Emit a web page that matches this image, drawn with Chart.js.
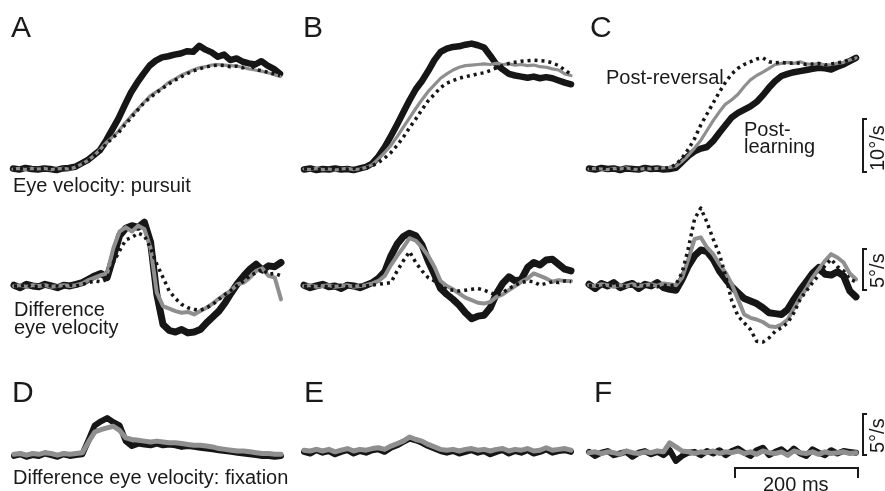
<!DOCTYPE html>
<html lang="en">
<head>
<meta charset="UTF-8">
<title>Eye velocity traces</title>
<script src="https://cdn.jsdelivr.net/npm/chart.js@4.4.1/dist/chart.umd.min.js"></script>
<style>
  body {
    margin: 0;
    width: 885px;
    height: 491px;
    position: relative;
    overflow: hidden;
    background: #fff;
    color: #1a1a1a;
    font-family: "Liberation Sans", Arial, sans-serif;
  }
  canvas { position: absolute; }
  .lbl { position: absolute; white-space: nowrap; line-height: 1; font-size: 20px; }
  .big { font-size: 30px; }
  .vbar { position: absolute; border: 2px solid #1a1a1a; border-right: none; width: 5px; box-sizing: border-box; }
  .hbar { position: absolute; border: 2px solid #1a1a1a; border-bottom: none; height: 11px; box-sizing: border-box; }
  .vtxt { position: absolute; white-space: nowrap; line-height: 1; font-size: 20px; transform: rotate(-90deg); transform-origin: left top; }
</style>
</head>
<body>
<div id="figure"></div>

<div class="lbl big" style="left:11px;top:12px">A</div>
<div class="lbl big" style="left:303px;top:12px">B</div>
<div class="lbl big" style="left:590px;top:12px">C</div>
<div class="lbl big" style="left:12px;top:377px">D</div>
<div class="lbl big" style="left:304px;top:377px">E</div>
<div class="lbl big" style="left:594px;top:377px">F</div>

<div class="lbl" style="left:13px;top:175px">Eye velocity: pursuit</div>
<div class="lbl" style="left:14px;top:299px">Difference</div>
<div class="lbl" style="left:14px;top:317px">eye velocity</div>
<div class="lbl" style="left:13px;top:467px">Difference eye velocity: fixation</div>
<div class="lbl" style="left:606px;top:67px">Post-reversal</div>
<div class="lbl" style="left:744px;top:119px">Post-</div>
<div class="lbl" style="left:744px;top:136px">learning</div>

<div class="vbar" style="left:862px;top:118px;height:55px"></div>
<div class="vtxt" style="left:867px;top:171px">10°/s</div>
<div class="vbar" style="left:862px;top:248px;height:43px"></div>
<div class="vtxt" style="left:867px;top:288px">5°/s</div>
<div class="vbar" style="left:862px;top:413px;height:43px"></div>
<div class="vtxt" style="left:867px;top:453px">5°/s</div>
<div class="hbar" style="left:734px;top:467px;width:125px"></div>
<div class="lbl" style="left:763px;top:474px">200 ms</div>

<script>
// time after target motion onset, ms
const times = [0, 10, 20, 30, 40, 50, 60, 70, 80, 90, 100, 110, 120, 130, 140, 150, 160, 170, 180, 190, 200, 210,
  220, 230, 240, 250, 260, 270, 280, 290, 300, 310, 320, 330, 340, 350, 360, 370, 380, 390, 400, 410, 420, 430];

// top row: eye velocity during pursuit (deg/s)
const aTopBlack = [0.1, -0.1, 0.2, 0.0, -0.1, 0.1, 0.0, -0.2, 0.1, 0.2,
  0.4, 1.0, 1.6, 2.5, 3.4, 5.2, 7.2, 9.2, 11.6, 13.9, 15.7, 17.3, 18.8, 19.7, 20.3, 20.5, 20.8, 21.0, 21.4, 21.3,
  22.4, 21.7, 21.2, 20.4, 20.8, 19.8, 20.1, 19.5, 19.2, 19.0, 19.6, 18.8, 18.2, 17.3];
const aTopGray = [0.0, 0.1, -0.1, 0.1, 0.0, 0.1, -0.1, 0.0, 0.1, 0.0,
  0.3, 0.9, 1.5, 2.4, 3.5,
  4.8, 5.8, 6.9, 8.3, 9.6, 10.8, 12.0, 13.2, 14.0, 14.7, 15.7, 16.3, 17.0, 17.5, 18.0, 18.4, 18.6, 18.9, 19.0, 18.9,
  18.8, 18.7, 18.5, 18.2, 18.0, 17.8, 17.5, 17.2, 16.8];
const aTopDot = [0.0, 0.0, 0.1, -0.1, 0.0, 0.1, 0.0, -0.1, 0.0, 0.1,
  0.3, 0.8, 1.4, 2.3, 3.3,
  4.5, 5.6, 6.6, 8.0, 9.3, 10.6, 11.9, 12.9, 13.8, 14.6, 15.4, 16.1, 16.7, 17.3, 17.8, 18.2, 18.5, 18.8, 18.9, 18.8,
  18.6, 18.7, 18.4, 19.3, 18.1, 17.9, 17.6, 17.3, 17.0];

const bTopBlack = [-0.1, 0.1, -0.2, 0.0, -0.1, 0.1, -0.1, 0.0, -0.2,
  0.1, 0.4, 1.0, 2.3, 4.0, 6.0, 8.1, 10.3, 12.5, 14.5, 16.0, 17.8, 19.8, 21.3, 21.9, 22.2, 22.3, 22.6, 22.8, 22.5,
  22.1, 20.6, 19.0, 18.1, 17.3, 17.0, 16.8, 16.6, 16.8, 16.5, 16.7, 16.5, 16.1, 15.7, 15.4];
const bTopGray = [0.0, -0.1, 0.1, -0.1, 0.0, -0.2, 0.0, 0.1, -0.1, 0.0,
  0.3, 0.8, 1.9, 3.0, 4.3, 5.9, 7.6, 9.3, 11.0, 12.6, 14.1, 15.3, 16.5, 17.3, 18.0, 18.5, 18.8, 18.9, 19.0, 19.1,
  19.0, 19.2, 19.0, 19.1, 18.9, 19.0, 18.8, 18.9, 18.6, 18.5, 18.2, 18.0, 17.3, 17.0];
const bTopDot = [0.0, 0.1, -0.1, 0.0, 0.1, -0.1, 0.0, 0.0, 0.1, -0.1,
  0.2, 0.6, 1.2, 2.0, 3.0, 4.3, 5.8, 7.5, 9.1, 10.8, 12.4, 13.6, 14.8, 15.6, 16.1, 16.5, 16.8, 17.0, 17.3, 17.5,
  17.9, 18.4, 18.8, 19.2, 19.4, 19.6, 19.7, 19.8, 19.7, 19.6, 19.3, 18.8, 18.0, 17.2];

const cTopBlack = [0.1, -0.1, 0.2, 0.0, 0.1, -0.2, 0.1, 0.0, -0.1, 0.2, 0.0, 0.1, -0.1, 0.0,
  0.2, 1.3, 2.4, 3.2, 3.7, 4.0, 5.1, 6.6, 8.0, 9.4, 10.2, 10.8, 11.4, 12.2, 13.4, 14.8, 16.0, 16.9, 17.3, 17.6,
  17.8, 18.0, 18.2, 18.4, 18.3, 18.1, 18.6, 19.0, 19.6, 20.2];
const cTopGray = [0.0, 0.1, 0.0, -0.1, 0.1, 0.0, 0.2, 0.0, -0.1, 0.1, 0.0, 0.1, 0.2, 0.3,
  0.5, 1.4, 2.5, 3.8, 5.2, 7.0, 8.8, 10.4, 11.8, 12.6, 13.6, 15.0, 16.2, 17.0, 17.6, 18.3, 19.0, 19.2, 19.4, 19.2,
  19.5, 19.1, 19.0, 19.2, 18.9, 19.0, 19.2, 19.4, 19.8, 20.2];
const cTopDot = [0.1, 0.0, 0.2, 0.0, -0.1, 0.1, 0.0, 0.1, -0.1, 0.1, 0.0, 0.2, 0.1,
  0.3, 0.8, 2.0, 3.6, 5.5, 8.0, 10.0, 12.0, 14.0, 15.8, 17.3, 18.3, 19.0, 19.5, 20.0, 20.2, 19.5, 19.3, 19.4, 19.2,
  19.3, 19.2, 19.0, 19.1, 19.2, 18.9, 19.1, 19.3, 19.5, 19.9, 20.3];

// middle row: difference eye velocity (deg/s)
const aMidBlack = [0.1, -0.2, 0.2, 0.0, -0.1, 0.2, 0.0, -0.2, 0.1, 0.0, 0.2,
  0.4, 0.8, 1.2, 1.5, 1.0, 3.5, 6.0, 6.9, 7.2, 7.0, 7.6, 5.2, -1.0, -4.6, -5.3, -5.5, -5.2, -5.6, -5.5, -5.2,
  -4.4, -3.7, -3.0, -2.0, -0.8, 0.3, 1.2, 2.0, 2.6, 1.9, 2.4, 2.3, 2.8];
const aMidGray = [0.0, 0.1, -0.1, 0.1, 0.0, 0.1, -0.1, 0.0, 0.1, 0.0, 0.1,
  0.3, 0.7, 1.0, 1.3, 1.5, 4.5, 6.5, 7.0, 6.5, 7.2, 6.8, 4.5, -0.8, -2.4, -2.7, -3.0, -3.2, -3.1, -3.4, -3.0,
  -2.6, -2.1, -1.5, -1.0, -0.5, 0.2, 0.4, 1.0, 1.8, 2.1, 1.2, 1.0, -1.6];
const aMidDot = [0.0, 0.0, 0.1, -0.1, 0.0, 0.1, 0.0, 0.0, -0.1, 0.1, 0.0,
  0.2, 0.4, 0.6, 0.5, 0.8, 2.8, 4.2, 5.5, 5.8, 6.3, 6.0, 4.5, 2.6, 1.0, -0.6, -1.5, -2.2, -2.6, -2.8, -2.9,
  -2.6, -2.2, -1.6, -1.0, -0.5, 0.1, 0.6, 1.2, 1.6, 2.0, 1.4, 1.5, 1.2];

const bMidBlack = [0.1, -0.2, 0.0, 0.2, -0.1, 0.0, -0.3, 0.1, 0.0, -0.2, 0.1, 0.4,
  0.9, 1.7, 3.6, 5.0, 5.9, 6.3, 6.0, 4.9, 3.0, 1.4, -0.3, -1.0, -1.6, -2.3, -3.2, -3.9, -3.6, -3.5, -2.6, -0.9,
  0.3, 1.1, 0.6, 0.8, 2.2, 2.8, 2.5, 3.1, 3.2, 2.6, 2.0, 1.8];
const bMidGray = [0.0, 0.1, -0.1, 0.0, 0.1, -0.1, 0.0, 0.1, -0.1, 0.0, 0.1, 0.3,
  0.6, 1.2, 2.5, 3.6, 4.6, 5.7, 5.4, 4.6, 3.6, 2.3, 0.6, 0.0, -0.4, -0.9, -1.4, -1.7, -2.0, -2.1, -1.9, -1.3,
  -1.0, -0.5, 0.0, 0.5, 0.9, 1.5, 1.2, 0.9, 0.5, 0.7, 0.6, 0.6];
const bMidDot = [0.0, -0.1, 0.1, 0.0, -0.1, 0.0, 0.1, -0.1, 0.0, 0.1, 0.0, 0.1,
  0.2, 0.3, 0.4, 1.8, 3.0, 4.1, 2.8, 1.8, 1.0, 0.6, 0.0, -0.4, -0.5, -0.6, -0.5, -0.4, -0.3, -0.5, -0.8, -1.1,
  -0.8, -0.3, 0.1, 0.4, 0.6, 0.5, 0.1, 0.3, 0.5, 0.4, 0.6, 0.5];

const cMidBlack = [0.2, -0.3, 0.3, 0.0, 0.4, -0.2, 0.1, 0.3, -0.3, 0.2, 0.0, 0.4, -0.2, -0.4, -0.5,
  0.8, 2.4, 3.6, 4.3, 4.1, 3.2, 1.8, 0.8, -0.1, -0.8, -1.5, -1.8, -2.1, -2.6, -3.2, -3.3, -3.4, -2.8, -1.6, -0.5,
  0.5, 1.5, 2.2, 1.4, 1.3, 1.7, 1.2, -0.6, -1.3];
const cMidGray = [0.1, 0.0, 0.2, 0.1, -0.1, 0.1, 0.0, 0.2, 0.0, 0.1, 0.2, 0.0, 0.3, 0.2, 0.1,
  1.0, 3.2, 5.6, 5.8, 4.6, 3.8, 2.6, 1.6, 0.2, -1.6, -3.4, -3.8, -4.0, -4.3, -4.8, -4.9, -4.6, -4.0, -2.7, -1.4,
  -0.3, 1.0, 2.0, 3.0, 3.8, 3.4, 2.8, 1.5, 0.8];
const cMidDot = [0.0, 0.1, -0.1, 0.2, 0.0, 0.1, -0.1, 0.0, 0.2, 0.0, 0.1, -0.1, 0.1, 0.0,
  0.2, 1.6, 4.5, 8.0, 9.3, 7.6, 5.6, 3.8, 1.2, -1.8, -3.6, -4.4, -5.2, -6.6, -6.7, -6.2, -5.4, -5.0, -4.4, -3.2,
  -1.6, -0.6, 0.4, 1.3, 2.4, 3.2, 2.3, 1.8, 0.8, 0.5];

// bottom row: difference eye velocity during fixation (deg/s)
const dBlack = [-0.3, -0.1, -0.4, -0.2, -0.3, 0.0, -0.2, -0.4, -0.1, -0.3, -0.2, -0.1,
  1.6, 3.4, 3.9, 4.3, 3.8, 3.4, 1.5,
  0.9, 1.2, 1.1, 1.0, 1.2, 1.0, 1.1, 1.0, 0.8, 0.9, 0.8, 0.7, 0.6, 0.5, 0.4, 0.3, 0.2, 0.1, 0.0, -0.1, -0.2,
  -0.3, -0.3, -0.4, -0.3];
const dGray = [-0.1, 0.0, -0.2, 0.0, -0.1, 0.1, 0.0, -0.2, 0.0, -0.1, 0.0, 0.1,
  1.4, 2.6, 2.9, 3.1, 3.3, 2.8, 1.9, 1.7, 1.6, 1.5, 1.4, 1.5, 1.4, 1.3, 1.3, 1.2, 1.1, 1.0, 1.0, 0.9,
  0.8, 0.6, 0.5, 0.4, 0.3, 0.3, 0.2, 0.1, 0.0, 0.0, -0.1, -0.1];

const eBlack = [0.2, 0.0, 0.4, 0.1, 0.3, -0.1, 0.2, 0.4, 0.0, 0.3, 0.1, 0.4, 0.5, 0.2, 0.7, 1.0, 1.4, 1.8, 1.6,
  1.3, 0.9, 0.6, 0.3, 0.1, 0.3, 0.0, 0.2, 0.4, 0.1, 0.3, -0.1, 0.2, 0.4, 0.0, 0.3, 0.1, 0.4, 0.0, 0.2, 0.5,
  0.1, 0.3, 0.4, 0.2];
const eGray = [0.4, 0.3, 0.5, 0.3, 0.5, 0.2, 0.4, 0.6, 0.3, 0.5, 0.4, 0.6, 0.7, 0.5, 0.9, 1.2, 1.5, 2.0, 1.7,
  1.5, 1.1, 0.8, 0.5, 0.4, 0.5, 0.3, 0.5, 0.6, 0.4, 0.5, 0.3, 0.5, 0.6, 0.3, 0.5, 0.4, 0.6, 0.3, 0.4, 0.7,
  0.4, 0.5, 0.6, 0.4];

const fBlack = [0.2, -0.3, 0.1, 0.3, -0.2, 0.0, 0.2, -0.4, 0.1, 0.3, -0.1, 0.2, -0.2, 0.4, -0.9, -0.3, 0.1,
  0.2, -0.2, 0.3, 0.0, 0.4, -0.2, 0.3, 0.6, 0.1, -0.3, 0.4, 0.7, -0.2, 0.2, 0.5, -0.1, 0.6, 0.0, -0.3, 0.5,
  0.1, -0.2, 0.4, 0.0, 0.3, 0.2, 0.1];
const fGray = [0.1, 0.2, 0.0, 0.2, 0.1, -0.1, 0.3, 0.1, 0.0, 0.2, 0.1, 0.3, 0.2, 1.3, 0.8, 0.3, 0.2, 0.0,
  0.2, 0.1, 0.3, 0.0, 0.2, 0.1, 0.3, 0.0, 0.2, -0.1, 0.3, 0.1, 0.0, 0.2, -0.2, 0.3, 0.1, 0.0, 0.2, -0.1, 0.2,
  0.0, 0.1, 0.2, 0.0, 0.1];

const BLACK = '#161616';
const GRAY = '#8f8f8f';
const PAD = 8;
const PLOT_W = 267;

// zero line position and px per deg/s for each row
const rows = [
  { zero: 168.5, k: 5.5, min: -2, max: 26, bw: 6.5, gw: 3.2 },
  { zero: 286.5, k: 8.4, min: -8, max: 10.5, bw: 7, gw: 4 },
  { zero: 453, k: 8.2, min: -2, max: 6, bw: 6, gw: 5 }
];

const panels = [
  { left: 13, row: 0, black: aTopBlack, gray: aTopGray, dot: aTopDot },
  { left: 304, row: 0, black: bTopBlack, gray: bTopGray, dot: bTopDot },
  { left: 589, row: 0, black: cTopBlack, gray: cTopGray, dot: cTopDot },
  { left: 14, row: 1, black: aMidBlack, gray: aMidGray, dot: aMidDot },
  { left: 304, row: 1, black: bMidBlack, gray: bMidGray, dot: bMidDot },
  { left: 589, row: 1, black: cMidBlack, gray: cMidGray, dot: cMidDot },
  { left: 14, row: 2, black: dBlack, gray: dGray },
  { left: 304, row: 2, black: eBlack, gray: eGray },
  { left: 589, row: 2, black: fBlack, gray: fGray }
];

const toXY = vals => vals.map((v, i) => ({ x: times[i], y: v }));

const fig = document.getElementById('figure');
panels.forEach(p => {
  const r = rows[p.row];
  const h = (r.max - r.min) * r.k;
  const top = r.zero - r.max * r.k;
  const cv = document.createElement('canvas');
  cv.width = PLOT_W + 2 * PAD;
  cv.height = Math.round(h + 2 * PAD);
  cv.style.left = (p.left - PAD) + 'px';
  cv.style.top = (top - PAD) + 'px';
  fig.appendChild(cv);

  const datasets = [
    { data: toXY(p.black), borderColor: BLACK, borderWidth: r.bw, order: 3 },
    { data: toXY(p.gray), borderColor: GRAY, borderWidth: r.gw, order: 2 }
  ];
  if (p.dot) {
    datasets.push({ data: toXY(p.dot), borderColor: BLACK, borderWidth: 3.5, borderDash: [3, 4],
      borderCapStyle: 'butt', order: 1 });
  }
  datasets.forEach(d => {
    d.pointRadius = 0;
    d.tension = 0;
    d.fill = false;
    d.clip = false;
    d.borderJoinStyle = 'round';
    if (!d.borderDash) d.borderCapStyle = 'round';
  });

  new Chart(cv.getContext('2d'), {
    type: 'line',
    data: { datasets },
    options: {
      responsive: false,
      animation: false,
      layout: { padding: PAD },
      plugins: { legend: { display: false }, tooltip: { enabled: false } },
      scales: {
        x: { type: 'linear', min: 0, max: 430, display: false },
        y: { min: r.min, max: r.max, display: false }
      }
    }
  });
});
</script>
</body>
</html>
